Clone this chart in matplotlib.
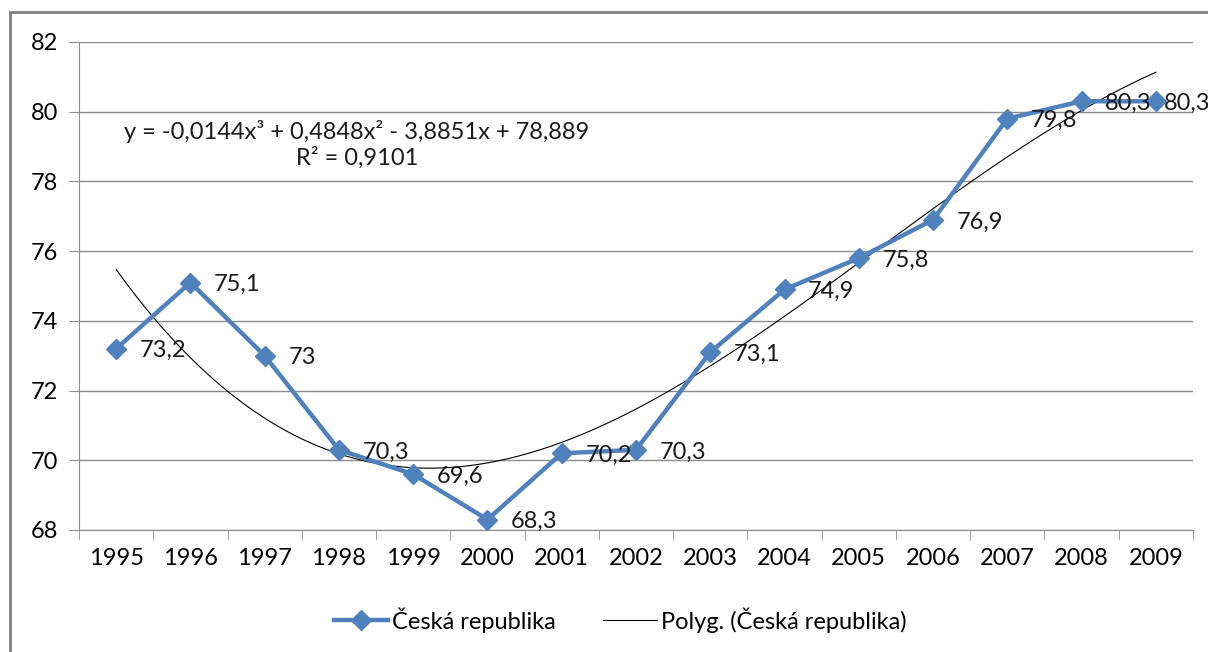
import numpy as np
import matplotlib.pyplot as plt
from matplotlib.patches import Rectangle

years = ['1995', '1996', '1997', '1998', '1999', '2000', '2001', '2002',
         '2003', '2004', '2005', '2006', '2007', '2008', '2009']
values = [73.2, 75.1, 73.0, 70.3, 69.6, 68.3, 70.2, 70.3,
          73.1, 74.9, 75.8, 76.9, 79.8, 80.3, 80.3]
labels = ['73,2', '75,1', '73', '70,3', '69,6', '68,3', '70,2', '70,3',
          '73,1', '74,9', '75,8', '76,9', '79,8', '80,3', '80,3']
eq_text = 'y = -0,0144x³ + 0,4848x² - 3,8851x + 78,889\nR² = 0,9101'

plt.rcParams['font.family'] = ['Lato', 'DejaVu Sans']
blue = '#4F81BD'
grid_c = '#8C8C8C'
fs = 17

fig = plt.figure(figsize=(12.08, 6.52), dpi=100)
ax = fig.add_axes([79 / 1208, 1 - 530 / 652, (1193 - 79) / 1208, (530 - 42) / 652])

x = np.arange(1, len(values) + 1)
# polynomial trend (3rd order), like Excel
coef = np.polyfit(x, values, 3)
xs = np.linspace(1, len(values), 300)
ax.plot(xs, np.polyval(coef, xs), color='black', lw=0.8, zorder=2,
        label='Polyg. (Česká republika)')
ax.plot(x, values, color=blue, lw=3.2, marker='D', markersize=10,
        zorder=3, label='Česká republika')

for i, (xi, v, t) in enumerate(zip(x, values, labels)):
    dx = 6 if i == len(values) - 1 else 17   # last label squeezed at the edge
    ax.annotate(t, (xi, v), xytext=(dx, -1.5), textcoords='offset points',
                va='center', ha='left', fontsize=fs, color='#1a1a1a', zorder=4,
                annotation_clip=False)

ax.text(4.24, 79.06, eq_text, ha='center', va='center', fontsize=fs,
        linespacing=1.25, color='#1a1a1a')

ax.set_xlim(0.5, len(values) + 0.5)
ax.set_ylim(68, 82)
ax.set_yticks(np.arange(68, 83, 2))
ax.set_xticks(x)
ax.set_xticklabels(years)
ax.set_xticks(np.arange(0.5, len(values) + 1), minor=True)
ax.tick_params(axis='x', which='major', length=0, pad=13, labelsize=fs)
ax.tick_params(axis='x', which='minor', length=7, color=grid_c, direction='out')
ax.tick_params(axis='y', length=7, color=grid_c, labelsize=fs, pad=8)
ax.yaxis.grid(True, color=grid_c, lw=1)
ax.set_axisbelow(True)
for s in ['top', 'right']:
    ax.spines[s].set_visible(False)
for s in ['left', 'bottom']:
    ax.spines[s].set_color(grid_c)

h, l = ax.get_legend_handles_labels()
fig.legend(h[::-1], l[::-1], loc='center', bbox_to_anchor=(620 / 1208, 1 - 620 / 652),
           ncol=2, frameon=False, fontsize=fs, handlelength=2.3, columnspacing=2.0,
           handletextpad=0.15)

# outer chart border (cut off on right and bottom)
fig.patches.append(Rectangle((10 / 1208, -0.1), 1.2, 1 - 12 / 652 + 0.1,
                             transform=fig.transFigure, fill=False,
                             edgecolor='#7F7F7F', lw=2))

fig.savefig('out.png', dpi=100)
